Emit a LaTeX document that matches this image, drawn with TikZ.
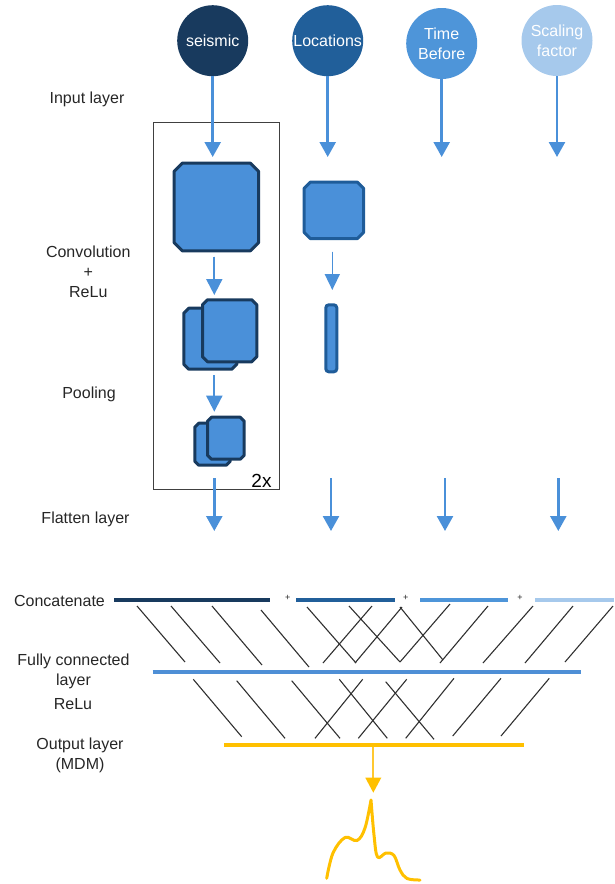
\documentclass[tikz,border=0pt]{standalone}
\usepackage{fontspec}
\setmainfont{Liberation Sans}
\usetikzlibrary{arrows.meta}

\definecolor{navy}{HTML}{183A5E}
\definecolor{midblue}{HTML}{215F9A}
\definecolor{accblue}{HTML}{4E95D9}
\definecolor{paleblue}{HTML}{A6C9EC}
\definecolor{arrowblue}{HTML}{4A90D9}
\definecolor{sqfill}{HTML}{4A90D9}
\definecolor{sqedge}{HTML}{1F5C99}
\definecolor{fcblue}{HTML}{4E8FD6}
\definecolor{gold}{HTML}{FFC000}
\definecolor{goldpale}{HTML}{FFC830}
\definecolor{labelgray}{HTML}{262626}
\definecolor{framegray}{HTML}{404040}
\definecolor{wire}{HTML}{303030}

% outline with cut corners around an empty placeholder node
\newcommand\cutbox[3]{%
  \draw[#3] ([xshift=#2]#1.north west) -- ([xshift=-#2]#1.north east)
    -- ([yshift=-#2]#1.north east) -- ([yshift=#2]#1.south east)
    -- ([xshift=-#2]#1.south east) -- ([xshift=#2]#1.south west)
    -- ([yshift=#2]#1.south west) -- ([yshift=-#2]#1.north west) -- cycle;}

\tikzset{
  txt/.style={font=\fontsize{16}{20}\selectfont, text=labelgray, align=center, inner sep=0pt},
  circ/.style={circle, minimum size=71pt, inner sep=0pt, text=white, align=center,
               font=\fontsize{16}{19}\selectfont},
  slot/.style={inner sep=0pt, outer sep=0pt},
  sq/.style={fill=sqfill, draw=navy, line width=3pt, line join=round},
  sqb/.style={fill=sqfill, draw=sqedge, line width=3pt, line join=round},
  arr/.style={-{Triangle[width=16pt,length=15pt]}, line width=2.5pt, draw=arrowblue, fill=arrowblue},
  arrin/.style={-{Triangle[width=16pt,length=16pt]}, line width=2pt, draw=arrowblue, fill=arrowblue},
  arrsm/.style={-{Triangle[width=15pt,length=16pt]}, line width=1.6pt, draw=arrowblue, fill=arrowblue},
  layerline/.style={line width=4pt},
  link/.style={draw=wire, line width=1.1pt},
  plus/.style={font=\fontsize{9}{9}\selectfont, inner sep=0pt, text=labelgray},
}

\begin{document}
\begin{tikzpicture}[x=1pt, y=-1pt]
\useasboundingbox (0,0) rectangle (614,884);

% ---- inputs
\node[circ, fill=navy]     (seis) at (212.7,40.7) {seismic};
\node[circ, fill=midblue]  (loc)  at (327.7,40.7) {Locations};
\node[circ, fill=accblue]  (tbef) at (441.7,43.5) {Time\\[1pt]Before};
\node[circ, fill=paleblue] (scal) at (557,40.5)   {Scaling\\[1pt]factor};

% ---- row labels
\node[txt] (lin)  at (87,99)     {Input layer};
\node[txt] (lcv)  at (88.3,271.5) {Convolution\\+\\ReLu};
\node[txt] (lpo)  at (89,394)    {Pooling};
\node[txt] (lfl)  at (85.5,519)  {Flatten layer};
\node[txt] (lcc)  at (59.5,601)  {Concatenate};
\node[txt] (lfc)  at (73.5,671)  {Fully connected\\layer};
\node[txt] (lre)  at (73,704)    {ReLu};
\node[txt] (lout) at (80,755)    {Output layer\\(MDM)};

% ---- repeated block frame
\node[slot, draw=framegray, line width=1pt, minimum width=126pt, minimum height=367.3pt]
  (rep) at (216.3,306.3) {};
\node[font=\fontsize{19}{19}\selectfont, inner sep=0pt] (twice) at (261.5,480.5) {2x};

% ---- seismic branch
\node[slot, minimum width=84.3pt, minimum height=87.6pt] (cv1) at (216.35,207) {};
\cutbox{cv1}{8pt}{sq}
\node[slot, minimum width=53pt, minimum height=61pt] (pb) at (210.3,338.7) {};
\cutbox{pb}{5pt}{sq}
\node[slot, minimum width=54.3pt, minimum height=62pt] (pf) at (229.65,330.8) {};
\cutbox{pf}{5pt}{sq}
\node[slot, minimum width=35.4pt, minimum height=42pt] (qb) at (212.5,444.2) {};
\cutbox{qb}{4pt}{sq}
\node[slot, minimum width=36.7pt, minimum height=42pt] (qf) at (225.85,438.2) {};
\cutbox{qf}{4pt}{sq}

% ---- locations branch
\node[slot, minimum width=59.3pt, minimum height=56.3pt] (lsq) at (333.85,210.35) {};
\cutbox{lsq}{6pt}{sqb}
\node[slot, fill=sqfill, draw=sqedge, line width=3pt, rounded corners=3pt,
      minimum width=11pt, minimum height=67pt] (lbar) at (331.3,338.3) {};

% ---- arrow end points
\coordinate (e1) at (212.7,157);
\coordinate (e2) at (327.7,157);
\coordinate (e3) at (441.7,157);
\coordinate (e4) at (557,157);
\coordinate (s2a) at (214.3,256.7); \coordinate (s2b) at (214.3,295);
\coordinate (s3a) at (214.3,375);   \coordinate (s3b) at (214.3,411.7);
\coordinate (l2a) at (332.3,251.7); \coordinate (l2b) at (332.3,290);
\coordinate (f1a) at (214.3,478) ; \coordinate (f1b) at (214.3,531);
\coordinate (f2a) at (331,478)   ; \coordinate (f2b) at (331,531);
\coordinate (f3a) at (445,478)   ; \coordinate (f3b) at (445,531);
\coordinate (f4a) at (558.3,478) ; \coordinate (f4b) at (558.3,531);

\draw[arr] (seis) -- (e1);
\draw[arr] (loc)  -- (e2);
\draw[arr] (tbef) -- (e3);
\draw[arr] (scal) -- (e4);
\draw[arrin] (s2a) -- (s2b);
\draw[arrin] (s3a) -- (s3b);
\draw[arrsm] (l2a) -- (l2b);
\draw[arr] (f1a) -- (f1b);
\draw[arr] (f2a) -- (f2b);
\draw[arr] (f3a) -- (f3b);
\draw[arr] (f4a) -- (f4b);

% ---- concatenation row
\coordinate (k1a) at (114,600); \coordinate (k1b) at (270,600);
\coordinate (k2a) at (296,600); \coordinate (k2b) at (395,600);
\coordinate (k3a) at (420,600); \coordinate (k3b) at (508.3,600);
\coordinate (k4a) at (535,600); \coordinate (k4b) at (614,600);
\draw[layerline, navy]     (k1a) -- (k1b);
\draw[layerline, midblue]  (k2a) -- (k2b);
\draw[layerline, accblue]  (k3a) -- (k3b);
\draw[layerline, paleblue] (k4a) -- (k4b);
\node[plus] (p1) at (287.7,597.5) {+};
\node[plus] (p2) at (405.7,597.5) {+};
\node[plus] (p3) at (520,597.5)   {+};

% ---- dense layers
\coordinate (fca) at (152.5,672.3); \coordinate (fcb) at (580.5,672.3);
\draw[layerline, fcblue] (fca) -- (fcb);
\coordinate (oa) at (224,744.5); \coordinate (ob) at (524,744.5);
\draw[layerline, gold] (oa) -- (ob);

% connections concatenate -> fully connected
\foreach \xa/\ya/\xb/\yb in {137/606/185/662, 171/606/220/663, 212/606/262/665,
    261/610/309/667, 307/607/356/663, 349/606/400/662, 400/607/443/660,
    323/663/372/606, 355/663/402/607, 400/662/450/604, 440/663/488/606,
    483/663/533/606, 525/663/573/606, 565/662/613/606}
  \draw[link] (\xa,\ya) -- (\xb,\yb);

% connections fully connected -> output
\foreach \xa/\ya/\xb/\yb in {193.3/679.3/241.7/736.7, 236.7/680.7/285/738.3,
    291.7/680.7/340/738.3, 339.3/679.3/387.3/738.3, 385.7/681.7/434/739.3,
    315/738.3/362.7/679.3, 358.3/738.3/406.7/679.3, 405.7/738.3/454/678.3,
    452.7/736/501/678.3, 501/736/549.3/678.3}
  \draw[link] (\xa,\ya) -- (\xb,\yb);

% ---- predicted distribution
\coordinate (oarr) at (373.3,746.5);
\coordinate (oend) at (373.3,792.7);
\draw[line width=2pt, goldpale] (oarr) -- ([yshift=8pt]oend);
\fill[gold] (oend) -- ++(-8,-15) -- ++(16,0) -- cycle;
\draw[gold, line width=3pt, line cap=round, line join=round]
  plot[smooth, tension=0.6] coordinates {(326.7,878.3) (333,853) (345,837.5) (357,840.5) (365,828) (371,800)}
  plot[smooth, tension=0.6] coordinates {(371,800) (374,835) (377.5,857) (386,853) (394,855.5) (400,870) (407,878.5) (420,880)};
\end{tikzpicture}
\end{document}
